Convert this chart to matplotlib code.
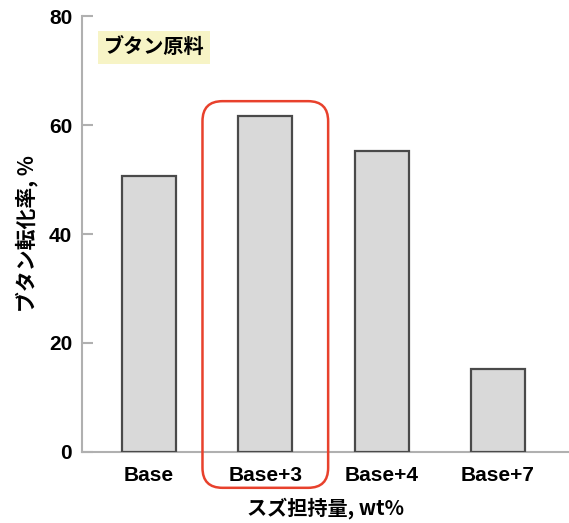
import matplotlib
matplotlib.use("Agg")
import matplotlib.pyplot as plt
from matplotlib.patches import FancyBboxPatch
from matplotlib.transforms import IdentityTransform

plt.rcParams['font.family'] = ['Noto Sans CJK JP', 'DejaVu Sans']

categories = ['Base', 'Base+3', 'Base+4', 'Base+7']
conversion = [50.6, 61.7, 55.2, 15.2]
yticks = [0, 20, 40, 60, 80]
highlight = 'Base+3'

fig = plt.figure(figsize=(5.69, 5.23), dpi=100)
ax = fig.add_axes([0.144, 0.136, 0.856, 0.833])

x = list(range(len(categories)))
ax.bar(x, conversion, width=0.465, color='#d9d9d9', edgecolor='#4a4a4a', linewidth=1.6, zorder=3)

ax.set_xlim(-0.576, 3.61)
ax.set_ylim(0, 80)
ax.set_yticks(yticks)
ax.set_xticks(x)
ax.set_xticklabels(categories, family='Liberation Sans', fontweight='bold', fontsize=15)
ax.set_yticklabels([str(v) for v in yticks], family='Liberation Sans', fontweight='bold', fontsize=15)

for s in ['top', 'right']:
    ax.spines[s].set_visible(False)
for s in ['left', 'bottom']:
    ax.spines[s].set_color('#b0b0b0')
    ax.spines[s].set_linewidth(1.5)
ax.tick_params(axis='y', direction='in', length=8, width=1.5, color='#b0b0b0', pad=7)
ax.tick_params(axis='x', length=0, pad=10)

ax.set_xlabel('スズ担持量, wt%', fontweight='bold', fontsize=14.5, labelpad=9)
ax.set_ylabel('ブタン転化率, %', fontweight='bold', fontsize=15, labelpad=8)

ax.text(0.148, 0.928, 'ブタン原料', transform=ax.transAxes, ha='center', va='center',
        fontsize=14.5, fontweight='bold',
        bbox=dict(boxstyle='square,pad=0.3', facecolor='#f7f4c6', edgecolor='none'))

# red rounded box around the highlighted bar, drawn in pixel space
i = categories.index(highlight)
fig.canvas.draw()
x0, y0 = ax.transData.transform((i - 0.54, -6.6))
x1, y1 = ax.transData.transform((i + 0.54, 64.4))
r = 20
box = FancyBboxPatch((x0 + r, y0 + r), (x1 - x0) - 2 * r, (y1 - y0) - 2 * r,
                     boxstyle='round,pad=%d,rounding_size=%d' % (r, r),
                     transform=IdentityTransform(), facecolor='none',
                     edgecolor='#e8412c', linewidth=1.8, zorder=5)
fig.patches.append(box)

fig.savefig('out.png', dpi=100)
